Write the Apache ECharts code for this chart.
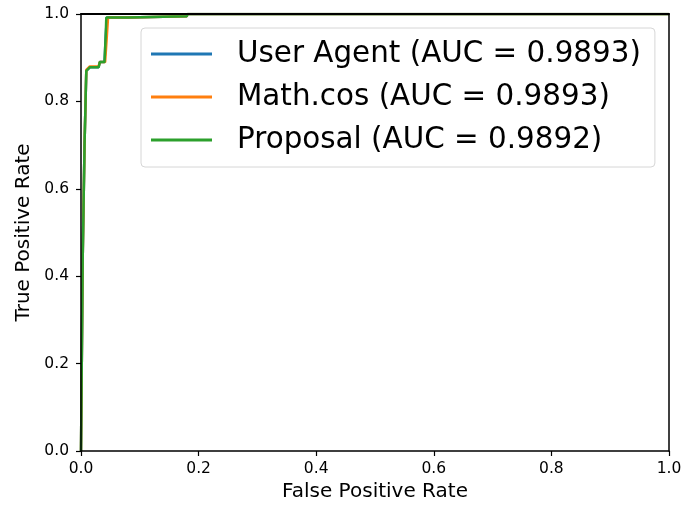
<!DOCTYPE html>
<html>
<head>
<meta charset="utf-8">
<script src="https://cdn.jsdelivr.net/npm/echarts@6/dist/echarts.min.js"></script>
<style>
	html, body { margin: 0; padding: 0; background: #fff; }
	#roc { width: 699px; height: 507px; }
</style>
</head>
<body>
<div id="roc"></div>
<script>
	// ROC curves
	const seriesNames = ['User Agent (AUC = 0.9893)', 'Math.cos (AUC = 0.9893)', 'Proposal (AUC = 0.9892)']
	const seriesColors = ['#1f77b4', '#ff7f0e', '#2ca02c']

	const userAgentFpr = [0, 0.001, 0.003, 0.006, 0.009, 0.015, 0.030, 0.032, 0.040, 0.042, 0.044, 0.080, 0.081, 0.180, 0.181, 1]
	const userAgentTpr = [0, 0.15, 0.45, 0.70, 0.870, 0.878, 0.878, 0.890, 0.890, 0.950, 0.992, 0.992, 0.995, 0.995, 1, 1]

	const mathCosFpr = [0, 0.001, 0.003, 0.006, 0.009, 0.015, 0.030, 0.032, 0.041, 0.044, 0.046, 0.080, 0.081, 0.180, 0.181, 1]
	const mathCosTpr = [0, 0.15, 0.45, 0.70, 0.872, 0.880, 0.880, 0.890, 0.890, 0.950, 0.992, 0.992, 0.995, 0.995, 1, 1]

	const proposalFpr = [0, 0.001, 0.003, 0.006, 0.009, 0.015, 0.030, 0.032, 0.040, 0.042, 0.043, 0.080, 0.081, 0.180, 0.181, 1]
	const proposalTpr = [0, 0.15, 0.45, 0.70, 0.870, 0.878, 0.878, 0.890, 0.890, 0.950, 0.992, 0.992, 0.995, 0.995, 1, 1]

	const tickValues = [0, 0.2, 0.4, 0.6, 0.8, 1.0]

	const fprs = [userAgentFpr, mathCosFpr, proposalFpr]
	const tprs = [userAgentTpr, mathCosTpr, proposalTpr]

	const font = 'DejaVu Sans'
	const tickFmt = (v) => v.toFixed(1)
	const spine = { color: '#000', width: 1.5 }

	const mainAxis = (extra) => Object.assign({
		type: 'value',
		min: tickValues[0],
		max: tickValues[tickValues.length - 1],
		interval: tickValues[1] - tickValues[0],
		z: 10,
		splitLine: { show: false },
		axisLine: { show: true, onZero: false, lineStyle: spine },
		axisTick: { show: true, inside: false, length: 5, lineStyle: { color: '#000', width: 1.2 } },
		axisLabel: { color: '#000', fontFamily: font, fontSize: 15.5, formatter: tickFmt },
		nameLocation: 'middle',
		nameTextStyle: { color: '#000', fontFamily: font, fontSize: 20 }
	}, extra)

	const frameAxis = (extra) => Object.assign({
		type: 'value',
		min: 0,
		max: 1,
		z: 10,
		splitLine: { show: false },
		axisLine: { show: true, onZero: false, lineStyle: spine },
		axisTick: { show: false },
		axisLabel: { show: false }
	}, extra)

	const chart = echarts.init(document.getElementById('roc'))

	const option = {
		animation: false,
		backgroundColor: '#fff',
		grid: { left: 81, right: 30, top: 14, bottom: 54, containLabel: false },
		xAxis: [
			mainAxis({ position: 'bottom', name: 'False Positive Rate', nameGap: 31, axisLabel: { color: '#000', fontFamily: font, fontSize: 15.5, margin: 10, formatter: tickFmt } }),
			frameAxis({ position: 'top', axisLine: { show: true, onZero: false, lineStyle: { color: '#000', width: 2 } } })
		],
		yAxis: [
			mainAxis({ position: 'left', name: 'True Positive Rate', nameGap: 46, axisLabel: { color: '#000', fontFamily: font, fontSize: 15.5, margin: 12, formatter: tickFmt } }),
			frameAxis({ position: 'right' })
		],
		legend: {
			orient: 'vertical',
			left: 141,
			top: 28,
			icon: 'rect',
			itemWidth: 61,
			itemHeight: 3,
			itemGap: 13,
			padding: [11, 14, 12, 10],
			backgroundColor: 'rgba(255,255,255,0.8)',
			borderColor: '#d6d6d6',
			borderWidth: 1,
			borderRadius: 4,
			textStyle: { color: '#000', fontFamily: font, fontSize: 29.4, lineHeight: 30, padding: [0, 0, 0, 20] },
			data: seriesNames
		},
		series: seriesNames.map((name, i) => ({
			name: name,
			type: 'line',
			xAxisIndex: 0,
			yAxisIndex: 0,
			clip: true,
			symbol: 'none',
			z: 2 + i,
			color: seriesColors[i],
			lineStyle: { width: 2.5, color: seriesColors[i] },
			data: fprs[i].map((x, k) => [x, tprs[i][k]])
		}))
	}

	chart.setOption(option)
	window.onresize = () => {
		chart.resize()
	}
</script>
</body>
</html>
